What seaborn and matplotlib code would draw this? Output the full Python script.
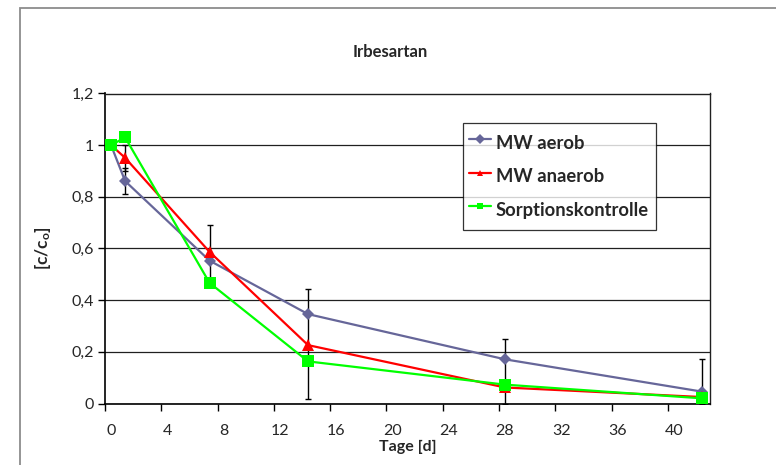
import numpy as np
import pandas as pd
import matplotlib
matplotlib.use("Agg")
import matplotlib.pyplot as plt
from matplotlib.patches import Rectangle
from matplotlib.ticker import FixedLocator, FuncFormatter
import seaborn as sns

# ---- data ----
days = [0, 1, 7, 14, 28, 42]
mw_aerob = [1.0, 0.861, 0.553, 0.346, 0.171, 0.046]
mw_anaerob = [1.0, 0.951, 0.587, 0.226, 0.062, 0.025]
sorption = [1.0, 1.030, 0.467, 0.163, 0.073, 0.020]
# error bars (lower, upper)
aerob_err_lo = [0, 0.05, 0, 0, 0, 0]
aerob_err_hi = [0, 0.05, 0, 0, 0, 0]
anaerob_err_lo = [0, 0.05, 0.105, 0.209, 0.062, 0.025]
anaerob_err_hi = [0, 0.049, 0.105, 0.216, 0.186, 0.147]
series_names = ["MW aerob", "MW anaerob", "Sorptionskontrolle"]
x_tick_labels = [0, 4, 8, 12, 16, 20, 24, 28, 32, 36, 40]
y_ticks = [0, 0.2, 0.4, 0.6, 0.8, 1.0, 1.2]

sns.set_theme(style="white")
plt.rcParams["font.family"] = ["Lato", "DejaVu Sans"]
plt.rcParams["mathtext.fontset"] = "custom"
plt.rcParams["mathtext.rm"] = "Lato"
plt.rcParams["mathtext.bf"] = "Lato:bold"

W, H = 776, 465
fig = plt.figure(figsize=(W / 100, H / 100), dpi=100)
ax = fig.add_axes([105 / W, 1 - 403.5 / H, (710 - 105) / W, (403.5 - 93.5) / H])

# outer chart-area border
fig.patches.append(Rectangle((20 / W, -0.1), 1.2, 1 - 8 / H + 0.1, transform=fig.transFigure,
                             fill=False, edgecolor="#8c8c8c", linewidth=1.3, zorder=0))

df = pd.DataFrame({
    "Tag": days * 3,
    "val": mw_aerob + mw_anaerob + sorption,
    "Serie": [series_names[0]] * 6 + [series_names[1]] * 6 + [series_names[2]] * 6,
})

colors = {"MW aerob": "#666699", "MW anaerob": "#ff0000", "Sorptionskontrolle": "#00ff00"}
markers = {"MW aerob": "D", "MW anaerob": "^", "Sorptionskontrolle": "s"}
msizes = {"MW aerob": 6.5, "MW anaerob": 9, "Sorptionskontrolle": 8.5}

# error bars
def draw_err(vals, lo, hi):
    idx = [i for i in range(len(days)) if lo[i] > 0 or hi[i] > 0]
    ax.errorbar([days[i] for i in idx], [vals[i] for i in idx],
                yerr=[[lo[i] for i in idx], [hi[i] for i in idx]],
                fmt="none", ecolor="black", elinewidth=1, capsize=2.5, capthick=1, zorder=2)

draw_err(mw_aerob, aerob_err_lo, aerob_err_hi)
draw_err(mw_anaerob, anaerob_err_lo, anaerob_err_hi)

for k, name in enumerate(series_names):
    sub = df[df["Serie"] == name]
    sns.lineplot(data=sub, x="Tag", y="val", ax=ax, color=colors[name], marker=markers[name],
                 markersize=msizes[name], markeredgewidth=0, linewidth=1.6, label=name,
                 zorder=3 + k, legend=False)

ax.set_xlim(-0.43, 42.57)
ax.set_ylim(0, 1.2)

# y axis
ax.set_yticks(y_ticks)
ax.yaxis.set_major_formatter(FuncFormatter(lambda v, p: ("%g" % round(v, 1)).replace(".", ",")))
ax.grid(axis="y", color="#202020", linewidth=0.9)
ax.grid(axis="x", visible=False)
ax.tick_params(axis="y", direction="out", length=5, width=1, color="black", labelsize=11.5,
               pad=3, left=True)

# x axis: labels centered on day values, tick marks at bin boundaries
ax.xaxis.set_major_locator(FixedLocator(x_tick_labels))
ax.set_xticklabels([str(v) for v in x_tick_labels])
ax.tick_params(axis="x", which="major", length=0, labelsize=11.5, pad=15)
ax.xaxis.set_minor_locator(FixedLocator([v - 0.43 for v in x_tick_labels]))
ax.tick_params(axis="x", which="minor", direction="out", length=5, width=1, color="black",
               bottom=True)

for s in ["left", "bottom"]:
    ax.spines[s].set_color("black")
    ax.spines[s].set_linewidth(1.2)
for s in ["top", "right"]:
    ax.spines[s].set_color("#202020")
    ax.spines[s].set_linewidth(1.0)

ax.set_xlabel("Tage [d]", fontsize=11.5, fontweight="bold", labelpad=1)
ax.set_ylabel(r"$\mathbf{[c/c_o]}$", fontsize=12.5, labelpad=13)

fig.text(390 / W, 1 - 52 / H, "Irbesartan", fontsize=12, fontweight="bold",
         ha="center", va="center")

handles, labels = ax.get_legend_handles_labels()
leg = ax.legend(handles, labels, loc="upper left", bbox_to_anchor=(463 / W, 1 - 123 / H),
                bbox_transform=fig.transFigure, borderaxespad=0, frameon=True, fancybox=False,
                edgecolor="black", prop={"weight": "bold", "size": 13.2}, handlelength=1.15,
                handleheight=1.9, handletextpad=0.3, labelspacing=0.35, borderpad=0.35)
leg.get_frame().set_linewidth(0.9)
for h in leg.legend_handles:
    h.set_markersize(5)
    h.set_linewidth(1.6)

fig.savefig("out.png", dpi=100, facecolor="white")
